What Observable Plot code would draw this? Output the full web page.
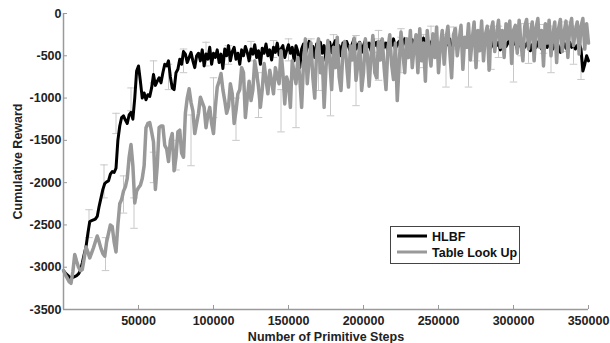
<!DOCTYPE html>
<html><head><meta charset="utf-8">
<script src="https://cdn.jsdelivr.net/npm/d3@7"></script>
<script src="https://cdn.jsdelivr.net/npm/@observablehq/plot@0.6"></script>
<style>body{margin:0;background:#fff;} #chart{position:relative;width:610px;height:343px;}</style>
</head><body><div id="chart"></div>
<script>
const stepSize = 1250;
const hlbf = [
 -3040,-3070,-3090,-3110,-3130,-3120,-3110,-3100,-3080,-3040,
 -2950,-2850,-2760,-2600,-2460,-2450,-2440,-2430,-2400,-2280,
 -2180,-2080,-2010,-1990,-1980,-1900,-1870,-1880,-1830,-1500,
 -1330,-1230,-1210,-1260,-1300,-1200,-1170,-1250,-1000,-680,
 -620,-800,-1000,-940,-1020,-960,-980,-880,-720,-850,
 -800,-760,-820,-700,-600,-620,-560,-750,-880,-900,
 -700,-660,-540,-600,-450,-480,-580,-520,-460,-560,
 -640,-500,-470,-560,-430,-620,-480,-540,-400,-600,
 -470,
 -520,-430,-580,-480,-650,-420,-500,-380,-560,-450,
 -400,-540,-470,-600,-430,-500,-390,-460,-560,-420,
 -480,-370,-520,-440,-600,-410,-470,-360,-500,-430,
 -550,-400,-460,-350,-490,-420,-380,-520,-440,-370,
 -470,-400,-560,-380,-450,-640,-420,-360,-480,-400,
 -330,-450,-390,-520,-360,-430,-340,-470,-380,-560,
 -400,-340,-460,-370,-320,-430,-380,-500,-350,-420,
 -330,-390,-450,-360,-300,-420,-370,-340,-460,-380,
 -320,-400,-350,-440,-300,-380,-340,-420,-370,-310,
 -400,-350,-450,-330,-380,-300,-420,-360,-330,-440,
 -350,-300,-400,-340,-380,-310,-430,-360,-320,-400,
 -340,-290,-380,-330,-420,-350,-300,-390,-340,-460,
 -360,-310,-400,-330,-370,-300,-440,-350,-320,-390,
 -340,-300,-420,-360,-330,-400,-350,-310,-380,-340,
 -300,-390,-350,-420,-330,-370,-310,-400,-350,-320,
 -380,-340,-430,-360,-310,-390,-350,-300,-400,-360,
 -330,-420,-350,-380,-310,-400,-360,-330,-440,-370,
 -340,-400,-350,-310,-420,-380,-350,-400,-330,-370,
 -420,-360,-330,-390,-460,-380,-350,-410,-370,-340,
 -400,-360,-420,-380,-350,-420,-680,-600,-500,-560];
const tlu = [
 -3040,-3090,-3130,-3170,-3190,-3050,-2850,-2930,-3000,-3040,
 -3030,-2900,-2760,-2820,-2890,-2830,-2770,-2700,-2630,-2700,
 -2780,-2840,-2870,-2700,-2600,-2500,-2520,-2700,-2820,-2500,
 -2250,-2200,-2100,-2050,-1950,-1700,-1550,-1800,-2240,-2100,
 -2060,-2030,-1950,-1800,-1350,-1300,-1290,-1400,-1520,-2080,
 -1800,-1350,-1330,-1330,-1560,-1600,-1750,-1500,-1420,-1860,
 -1700,-1400,-1380,-1650,-1700,-1180,-1000,-890,-1050,-1150,
 -1420,-1300,-1180,-990,-1050,-1110,-1350,-1200,-1110,-1300,
 -1420,-1100,-870,-800,-710,-900,-1030,-1180,-1100,-830,
 -950,-1300,-1150,-950,-900,-640,-700,-1230,-1000,-800,
 -1030,-900,-560,-700,-870,-1110,-900,-590,-780,-950,
 -670,-800,-950,-640,-750,-830,-440,-700,-1070,-750,
 -830,-1110,-560,-700,-830,-520,-760,
 -1110,-600,-300,-830,-560,-350,-760,-1000,-450,-300,
 -700,-520,-1110,-640,-320,-560,-900,-400,-640,-280,
 -750,-910,-450,-330,-600,-870,-380,-550,-290,-790,
 -600,-350,-910,-700,-300,-480,-860,-520,-260,-700,
 -760,-330,-550,-300,-640,-900,-420,-250,-600,-780,
 -350,-1030,-600,-220,-470,-700,-300,-520,-200,-640,
 -400,-250,-700,-180,-560,-350,-800,-200,-450,-620,
 -240,-520,-160,-700,-380,-200,-600,-300,-150,-450,
 -760,-250,-180,-500,-320,-140,-660,-280,-400,-120,
 -550,-300,-100,-640,-200,-440,-90,-560,-250,-150,
 -670,-200,-100,-450,-240,-80,-400,-200,-520,-120,
 -300,-90,-590,-200,-140,-470,-80,-350,-560,-150,
 -70,-420,-230,-100,-560,-170,-60,-400,-200,-620,
 -120,-350,-80,-500,-250,-100,-580,-180,-70,-450,
 -220,-90,-520,-160,-60,-380,-200,-100,-480,-150,
 -60,-420,-120,-350];

const hlbfErrX  = [17000,27000,35000,45000,60000,70000,80000,95000,110000,125000,140000,150000,165000,180000,195000,210000,225000,245000,260000,275000,290000,305000,320000,335000,345000];
const hlbfErrLo = [-2650,-2180,-1420,-1150,-820,-900,-700,-620,-600,-560,-520,-560,-520,-480,-500,-460,-430,-400,-420,-560,-520,-500,-470,-450,-780];
const hlbfErrHi = [-2320,-1790,-1180,-880,-560,-600,-420,-340,-380,-330,-320,-300,-300,-250,-260,-200,-180,-150,-160,-200,-150,-120,-130,-100,-200];

const tluErrX  = [28000,40000,47000,60000,75000,85000,100000,115000,130000,145000,155000,170000,178000,195000,210000,225000,240000,255000,270000,285000,300000,310000,325000,340000];
const tluErrLo = [-3040,-2360,-2540,-2000,-1850,-1800,-1230,-1500,-1230,-1400,-1350,-910,-1210,-1090,-790,-700,-640,-870,-870,-660,-810,-590,-700,-600];
const tluErrHi = [-2650,-1920,-2180,-1640,-1500,-1200,-760,-1000,-700,-900,-780,-400,-560,-500,-300,-280,-250,-250,-300,-150,-200,-120,-150,-150];

const xTicks = [50000,100000,150000,200000,250000,300000,350000];
const yTicks = [0,-500,-1000,-1500,-2000,-2500,-3000,-3500];
const seriesNames = ["HLBF","Table Look Up"];
const seriesColors = ["#000000","#999999"];
const capHalf = 2500;

const hl = hlbf.map((v,i)=>({x:i*stepSize,y:v}));
const tl = tlu.map((v,i)=>({x:i*stepSize,y:v}));
const eb = hlbfErrX.map((x,i)=>({x,lo:hlbfErrLo[i],hi:hlbfErrHi[i]}))
  .concat(tluErrX.map((x,i)=>({x,lo:tluErrLo[i],hi:tluErrHi[i]})));

const font = "'Liberation Sans', Arial, sans-serif";
const plot = Plot.plot({
  width: 610, height: 343,
  marginLeft: 63, marginRight: 22, marginTop: 13, marginBottom: 34,
  x: {domain: [0, 350000]},
  y: {domain: [-3500, 0]},
  style: {fontFamily: font, fontSize: "12.5px", fontWeight: "bold", background: "#fff", overflow: "visible"},
  marks: [
    Plot.ruleX(eb, {x: "x", y1: "lo", y2: "hi", stroke: "#c8c8c8", strokeWidth: 1}),
    Plot.link(eb, {x1: d=>d.x-capHalf, x2: d=>d.x+capHalf, y1: "lo", y2: "lo", stroke: "#c8c8c8"}),
    Plot.link(eb, {x1: d=>d.x-capHalf, x2: d=>d.x+capHalf, y1: "hi", y2: "hi", stroke: "#c8c8c8"}),
    Plot.line(hl, {x: "x", y: "y", stroke: seriesColors[0], strokeWidth: 3}),
    Plot.line(tl, {x: "x", y: "y", stroke: seriesColors[1], strokeWidth: 3.5}),
    Plot.ruleX([0], {stroke: "#9a9a9a", strokeWidth: 1.5}),
    Plot.ruleY([-3500], {stroke: "#9a9a9a", strokeWidth: 1.5}),
    Plot.axisX(xTicks, {tickSize: -4, tickPadding: 11, stroke: "#9a9a9a", tickFormat: d=>String(d),
      label: "Number of Primitive Steps", labelAnchor: "center", labelArrow: "none", labelOffset: 31, fill: "#222"}),
    Plot.axisY(yTicks, {tickSize: -4, tickPadding: 6, stroke: "#9a9a9a", tickFormat: d=>String(d),
      label: "Cumulative Reward", labelAnchor: "center", labelArrow: "none", labelOffset: 50, fill: "#222"})
  ]
});
document.getElementById("chart").appendChild(plot);

// legend
const svg = d3.select(plot);
const lg = svg.append("g").attr("font-family", font).attr("font-weight","bold")
  .attr("font-size","12.5px").attr("text-anchor","start");
lg.append("rect").attr("x",390.5).attr("y",226.5).attr("width",129).attr("height",37)
  .attr("fill","#fff").attr("stroke","#444").attr("stroke-width",1);
seriesNames.forEach((n,i)=>{
  const yy = 236 + i*16;
  lg.append("line").attr("x1",397).attr("x2",427).attr("y1",yy).attr("y2",yy)
    .attr("stroke",seriesColors[i]).attr("stroke-width",3);
  lg.append("text").attr("x",432).attr("y",yy+1).attr("dy","0.35em").attr("fill","#111").text(n);
});
</script></body></html>
